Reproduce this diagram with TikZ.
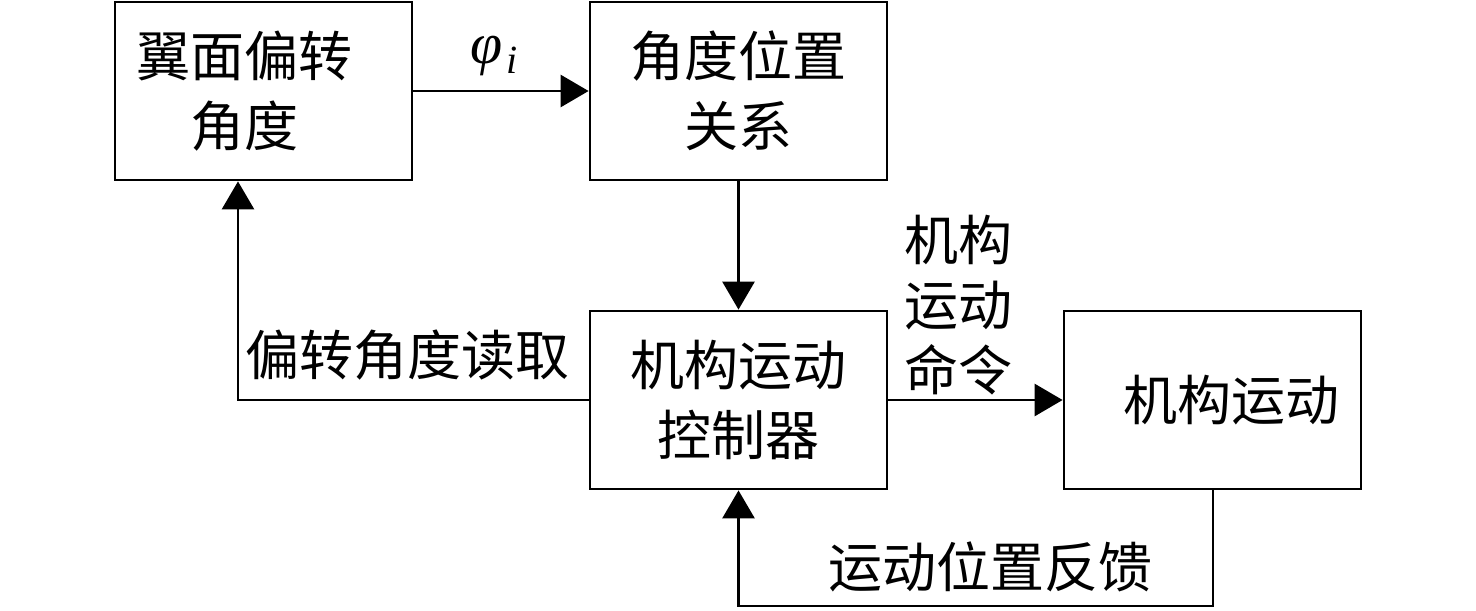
\documentclass[tikz,border=0pt]{standalone}
\usepackage{fontspec}
\newfontfamily\cjk{Noto Sans CJK SC}
\newfontfamily\tms{Liberation Serif}
\usetikzlibrary{arrows.meta}
\begin{document}
\begin{tikzpicture}[x=0.5pt,y=-0.5pt,
  box/.style={draw,line width=1.4pt,minimum width=148.5pt,minimum height=89pt,inner sep=0pt,align=center,font=\cjk\fontsize{27pt}{35pt}\selectfont},
  lbl/.style={inner sep=0pt,align=center,font=\cjk\fontsize{27pt}{32.5pt}\selectfont},
  conn/.style={line width=1.4pt,-{Triangle[length=14pt,width=16pt]}}]
\useasboundingbox (0,0) rectangle (1476,610);
\node[box] (A) at (263.5,91) {\hspace*{-19pt}翼面偏转\\\hspace*{-19pt}角度};
\node[box] (B) at (738.5,91) {角度位置\\关系};
\node[box] (C) at (738.5,400) {机构运动\\控制器};
\node[box] (D) at (1212.5,400) {\hspace*{19pt}机构运动};
\draw[conn] (A.east) -- (B.west);
\node[inner sep=0pt,font=\tms\itshape\fontsize{29pt}{29pt}\selectfont] (phi) at (494,56) {φ\kern2pt\raisebox{-5pt}{\fontsize{20pt}{20pt}\selectfont i}};
\draw[conn] (B.south) -- (C.north);
\draw[conn] (C.east) -- (D.west);
\coordinate (c1) at (238,400);
\draw[conn] (C.west) -- (c1) -- (c1 |- A.south);
\coordinate (d1) at (1213,606);
\coordinate (d2) at (738.5,606);
\draw[conn] (D.south -| d1) -- (d1) -- (d2) -- (C.south);
\node[lbl] (l1) at (407,355) {偏转角度读取};
\node[lbl] (l2) at (990,567) {运动位置反馈};
\node[lbl,align=left] (l3) at (958,305) {机构\\运动\\命令};
\end{tikzpicture}
\end{document}
